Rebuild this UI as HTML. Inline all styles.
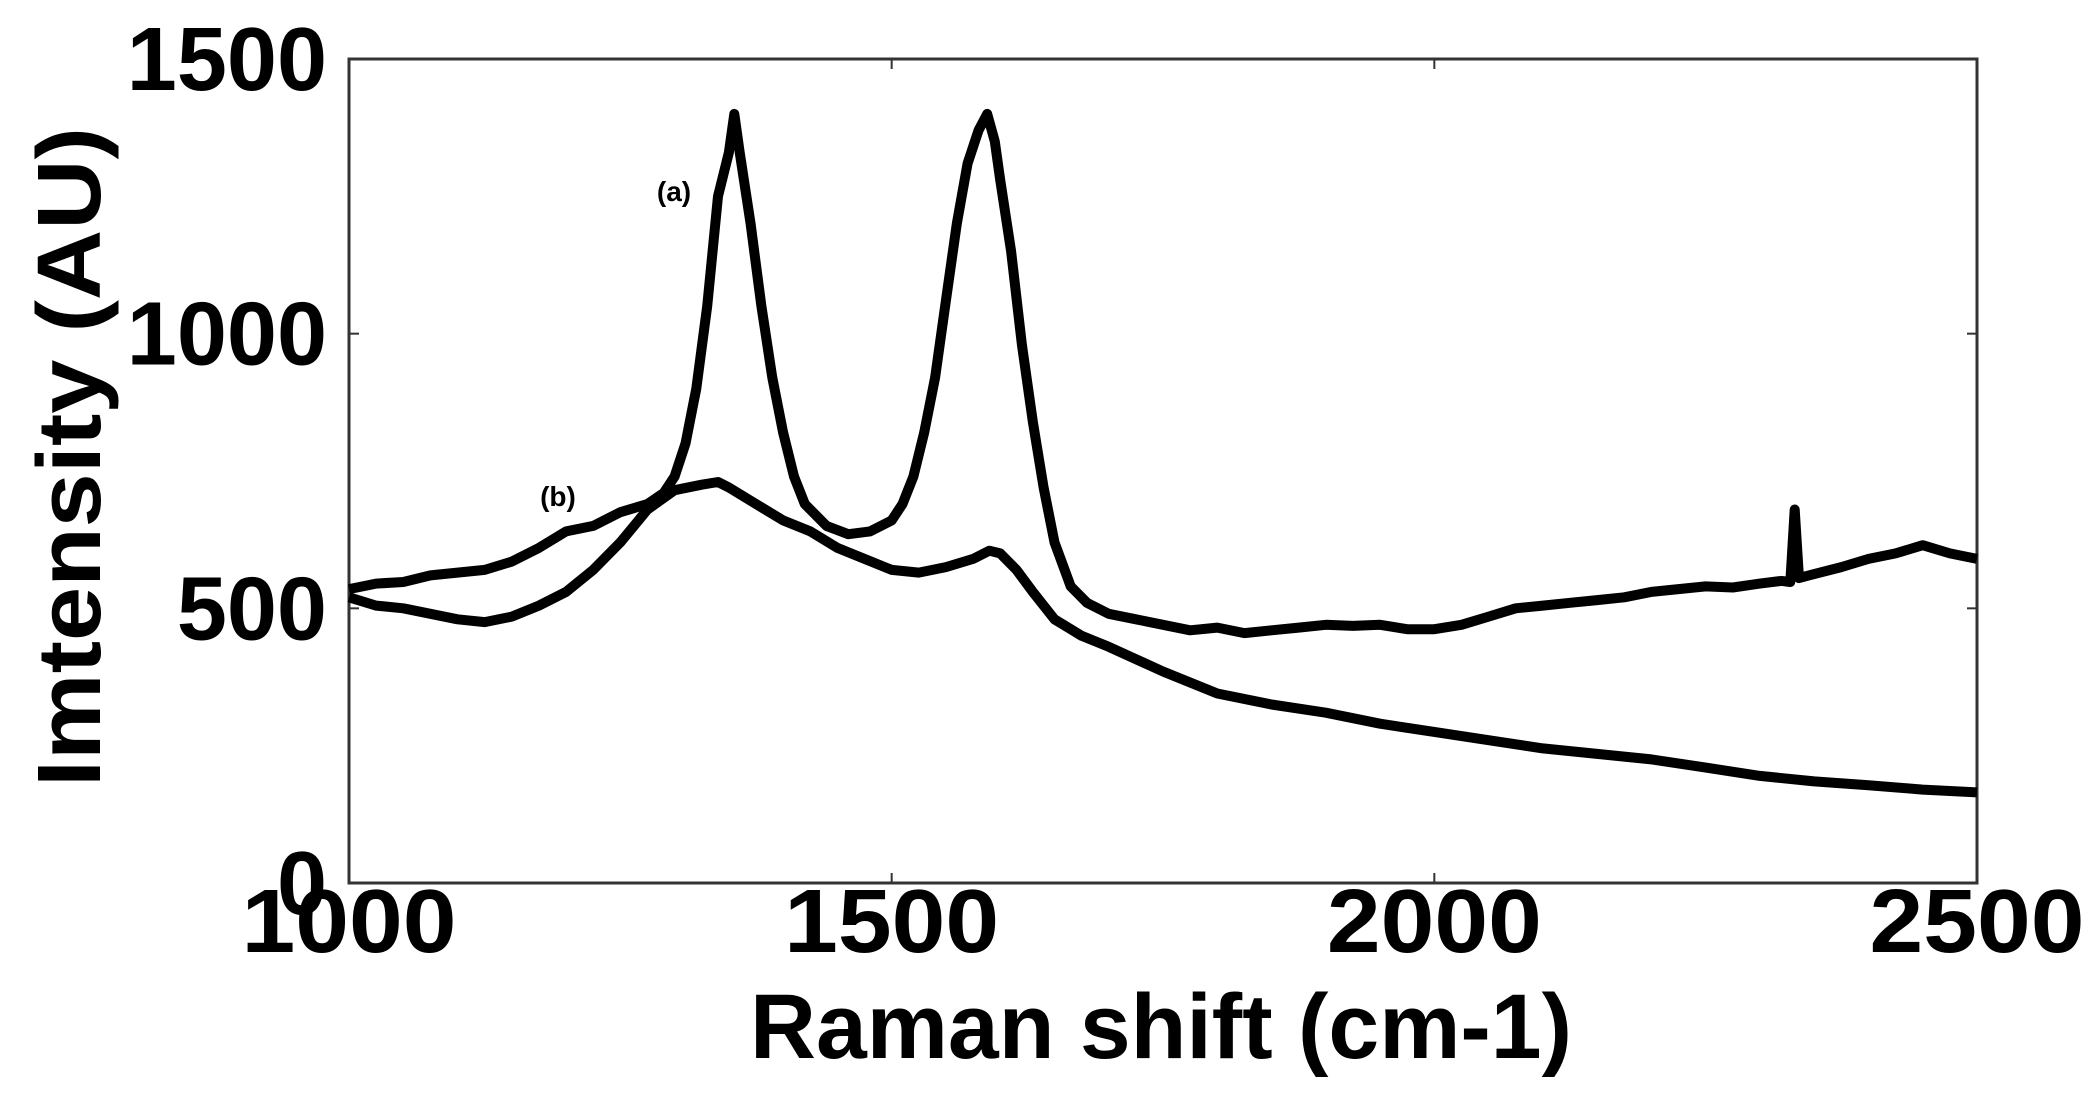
<!DOCTYPE html>
<html><head><meta charset="utf-8"><style>
html,body{margin:0;padding:0;background:#fff;}
svg{display:block;}
text{font-family:"Liberation Sans",Arial,sans-serif;font-weight:bold;fill:#000;}
</style></head><body>
<svg id="chart" width="2092" height="1109" viewBox="0 0 2092 1109" xmlns="http://www.w3.org/2000/svg">
<g id="axes"></g>
<g id="series"></g>
<text x="1161" y="1058" font-size="92" text-anchor="middle" textLength="822" lengthAdjust="spacingAndGlyphs">Raman shift (cm-1)</text>
<text transform="translate(100,457) rotate(-90)" font-size="90" text-anchor="middle" textLength="660" lengthAdjust="spacingAndGlyphs">Imtensity (AU)</text>
<text x="674" y="201" font-size="28" text-anchor="middle">(a)</text>
<text x="558" y="506" font-size="28" text-anchor="middle">(b)</text>
</svg>
<script>
const xTicks=[1000,1500,2000,2500];
const yTicks=[0,500,1000,1500];
const xA=[1000,1025,1050,1075,1100,1125,1150,1175,1200,1225,1250,1275,1290,1300,1310,1320,1330,1340,1350,1355,1360,1370,1380,1390,1400,1410,1420,1440,1460,1480,1500,1510,1520,1530,1540,1550,1560,1570,1580,1588,1595,1600,1610,1620,1630,1640,1650,1665,1680,1700,1725,1750,1775,1800,1825,1850,1875,1900,1925,1950,1975,2000,2025,2050,2075,2100,2125,2150,2175,2200,2225,2250,2275,2300,2320,2328,2332,2336,2345,2375,2400,2425,2450,2475,2500];
const yA=[535,545,548,560,565,570,585,610,640,650,675,690,710,740,800,900,1050,1250,1330,1400,1330,1200,1050,920,820,740,690,650,635,640,660,690,740,820,920,1060,1200,1310,1370,1400,1350,1280,1150,980,840,720,620,540,510,490,480,470,460,465,455,460,465,470,468,470,462,462,470,485,500,505,510,515,520,530,535,540,538,545,550,548,680,555,560,575,590,600,615,600,590];
const xB=[1000,1025,1050,1075,1100,1125,1150,1175,1200,1225,1250,1275,1300,1325,1340,1350,1375,1400,1425,1450,1475,1500,1525,1550,1575,1590,1600,1615,1630,1650,1675,1700,1750,1800,1850,1900,1950,2000,2050,2100,2150,2200,2250,2300,2350,2400,2450,2500];
const yB=[520,505,500,490,480,475,485,505,530,570,620,680,715,725,730,720,690,660,640,610,590,570,565,575,590,605,600,570,530,480,450,430,385,345,325,310,290,275,260,245,235,225,210,195,185,178,170,165];
const L=349,R=1977,T=59,B=883;
const sx=v=>L+(v-1000)/1500*(R-L);
const sy=v=>B-v/1500*(B-T);
const NS='http://www.w3.org/2000/svg';
const axes=document.getElementById('axes');
const frame=document.createElementNS(NS,'rect');


frame.setAttribute('x',L);frame.setAttribute('y',T);frame.setAttribute('width',R-L);frame.setAttribute('height',B-T);
frame.setAttribute('fill','none');frame.setAttribute('stroke','#333');frame.setAttribute('stroke-width','3');
axes.appendChild(frame);
xTicks.forEach(v=>{
  [[B,B-10],[T,T+10]].forEach(p=>{const l=document.createElementNS(NS,'line');
  
  
  l.setAttribute('x1',sx(v));l.setAttribute('x2',sx(v));l.setAttribute('y1',p[0]);l.setAttribute('y2',p[1]);l.setAttribute('stroke','#333');l.setAttribute('stroke-width','2');axes.appendChild(l);});
  const t=document.createElementNS(NS,'text');
  
  
  t.setAttribute('x',sx(v));t.setAttribute('y',952);t.setAttribute('font-size','90');t.setAttribute('text-anchor','middle');
  t.setAttribute('textLength','215');t.setAttribute('lengthAdjust','spacingAndGlyphs');
  t.textContent=v;axes.appendChild(t);
});
yTicks.forEach(v=>{
  [[L,L+10],[R,R-10]].forEach(p=>{const l=document.createElementNS(NS,'line');
  
  
  l.setAttribute('y1',sy(v));l.setAttribute('y2',sy(v));l.setAttribute('x1',p[0]);l.setAttribute('x2',p[1]);l.setAttribute('stroke','#333');l.setAttribute('stroke-width','2');axes.appendChild(l);});
  const t=document.createElementNS(NS,'text');
  
  
  t.setAttribute('x',327);t.setAttribute('y',sy(v)+31);t.setAttribute('font-size','90');t.setAttribute('text-anchor','end');
  t.textContent=v;axes.appendChild(t);
});
const ser=document.getElementById('series');
function draw(xs,ys,name){
  const p=document.createElementNS(NS,'path');
  
  
  p.setAttribute('d',xs.map((x,i)=>(i?'L':'M')+sx(x).toFixed(1)+' '+sy(ys[i]).toFixed(1)).join(' '));
  p.setAttribute('fill','none');p.setAttribute('stroke','#000');p.setAttribute('stroke-width','10');p.setAttribute('stroke-linejoin','round');
  ser.appendChild(p);
}
draw(xA,yA,'spectrum-a');
draw(xB,yB,'spectrum-b');
</script>
</body></html>
